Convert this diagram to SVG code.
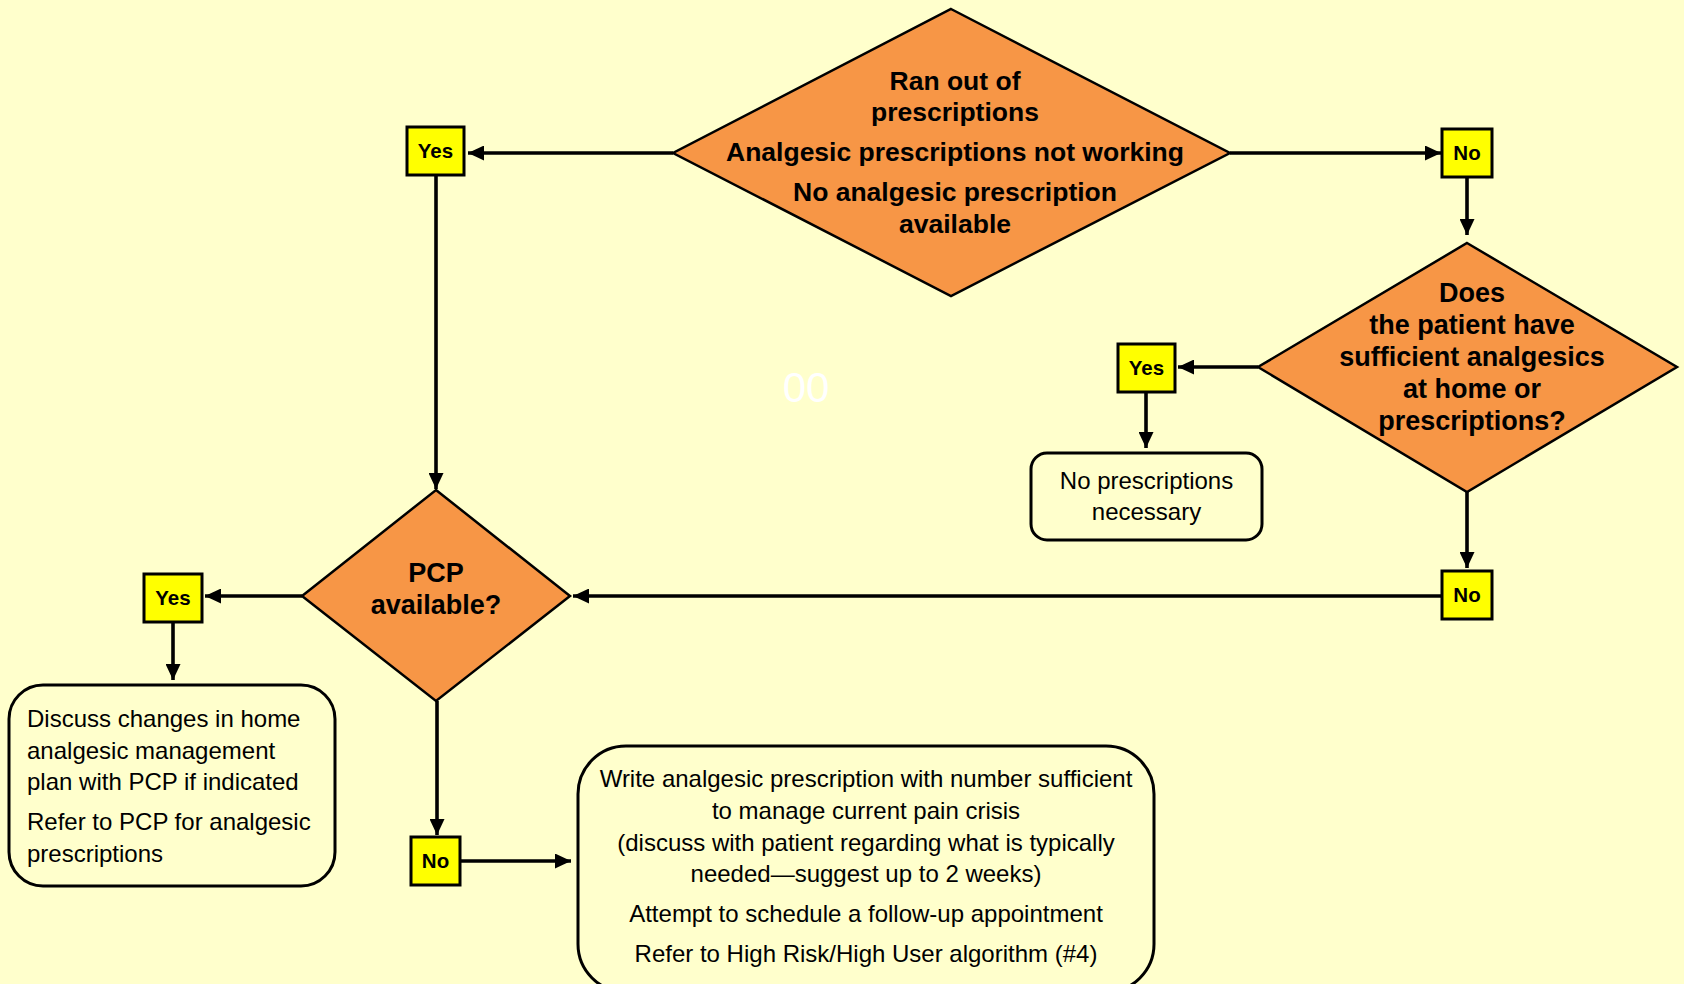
<svg xmlns="http://www.w3.org/2000/svg" width="1684" height="984" viewBox="0 0 1684 984">
<defs>
<marker id="ah" markerUnits="userSpaceOnUse" markerWidth="16" markerHeight="15" refX="16" refY="7.5" orient="auto">
<path d="M0,0 L16,7.5 L0,15 z" fill="#000"/>
</marker>
<style>
.dia{fill:#F79646;stroke:#000;stroke-width:2.5}
.lab{fill:#FFFF00;stroke:#000;stroke-width:3}
.box{fill:#FFFFCC;stroke:#000;stroke-width:3}
.bt{font-family:"Liberation Sans",Arial,sans-serif;font-weight:bold;font-size:27px;fill:#000;text-anchor:middle}
.bt.s{font-size:26.5px}
.lt{font-family:"Liberation Sans",Arial,sans-serif;font-weight:bold;font-size:20.5px;fill:#000;text-anchor:middle}
.rt{font-family:"Liberation Sans",Arial,sans-serif;font-size:24px;fill:#000}
.c{text-anchor:middle}
.con line{stroke:#000;stroke-width:3.6;marker-end:url(#ah)}
</style>
</defs>
<rect x="0" y="0" width="1684" height="984" fill="#FFFFCC"/>
<text x="806" y="402" font-family="Liberation Sans,Arial,sans-serif" font-size="42" fill="#FFFFFF" text-anchor="middle">00</text>

<g id="connectors" class="con">
<line x1="673" y1="153" x2="468" y2="153"/>
<line x1="1230" y1="153" x2="1441" y2="153"/>
<line x1="1467" y1="177" x2="1467" y2="235"/>
<line x1="1258" y1="367" x2="1178" y2="367"/>
<line x1="1146" y1="392" x2="1146" y2="448"/>
<line x1="1467" y1="492" x2="1467" y2="568"/>
<line x1="1442" y1="596" x2="573" y2="596"/>
<line x1="436" y1="175" x2="436" y2="489"/>
<line x1="302" y1="596" x2="205" y2="596"/>
<line x1="173" y1="622" x2="173" y2="680"/>
<line x1="437" y1="701" x2="437" y2="835"/>
<line x1="460" y1="861" x2="571" y2="861"/>
</g>

<g id="d1">
<polygon class="dia" points="951,9 1230,153 951,296 673,153"/>
<text class="bt s" x="955" y="90">Ran out of</text>
<text class="bt s" x="955" y="121">prescriptions</text>
<text class="bt s" x="955" y="161">Analgesic prescriptions not working</text>
<text class="bt s" x="955" y="201">No analgesic prescription</text>
<text class="bt s" x="955" y="233">available</text>
</g>

<g id="yes1">
<rect class="lab" x="407" y="127" width="57" height="48"/>
<text class="lt" x="435.5" y="158">Yes</text>
</g>

<g id="no1">
<rect class="lab" x="1442" y="129" width="50" height="48"/>
<text class="lt" x="1467" y="160">No</text>
</g>

<g id="d2">
<polygon class="dia" points="1467,243 1677,367 1467,492 1258,367"/>
<text class="bt" x="1472" y="302">Does</text>
<text class="bt" x="1472" y="334">the patient have</text>
<text class="bt" x="1472" y="366">sufficient analgesics</text>
<text class="bt" x="1472" y="398">at home or</text>
<text class="bt" x="1472" y="430">prescriptions?</text>
</g>

<g id="yes2">
<rect class="lab" x="1118" y="344" width="57" height="48"/>
<text class="lt" x="1146.5" y="375">Yes</text>
</g>

<g id="noPresc">
<rect class="box" x="1031" y="453" width="231" height="87" rx="16"/>
<text class="rt c" x="1146.5" y="489">No prescriptions</text>
<text class="rt c" x="1146.5" y="520">necessary</text>
</g>

<g id="no2">
<rect class="lab" x="1442" y="571" width="50" height="48"/>
<text class="lt" x="1467" y="602">No</text>
</g>

<g id="d3">
<polygon class="dia" points="436,490 570,596 436,701 302,596"/>
<text class="bt" x="436" y="582">PCP</text>
<text class="bt" x="436" y="614">available?</text>
</g>

<g id="yes3">
<rect class="lab" x="144" y="574" width="58" height="48"/>
<text class="lt" x="173" y="605">Yes</text>
</g>

<g id="discuss">
<rect class="box" x="9" y="685" width="326" height="201" rx="34"/>
<text class="rt" x="27" y="727">Discuss changes in home</text>
<text class="rt" x="27" y="759">analgesic management</text>
<text class="rt" x="27" y="790">plan with PCP if indicated</text>
<text class="rt" x="27" y="830">Refer to PCP for analgesic</text>
<text class="rt" x="27" y="862">prescriptions</text>
</g>

<g id="no3">
<rect class="lab" x="411" y="837" width="49" height="48"/>
<text class="lt" x="435.5" y="868">No</text>
</g>

<g id="write">
<rect class="box" x="578" y="746" width="576" height="246" rx="48"/>
<text class="rt c" x="866" y="787">Write analgesic prescription with number sufficient</text>
<text class="rt c" x="866" y="819">to manage current pain crisis</text>
<text class="rt c" x="866" y="851">(discuss with patient regarding what is typically</text>
<text class="rt c" x="866" y="882">needed—suggest up to 2 weeks)</text>
<text class="rt c" x="866" y="922">Attempt to schedule a follow-up appointment</text>
<text class="rt c" x="866" y="962">Refer to High Risk/High User algorithm (#4)</text>
</g>
</svg>
